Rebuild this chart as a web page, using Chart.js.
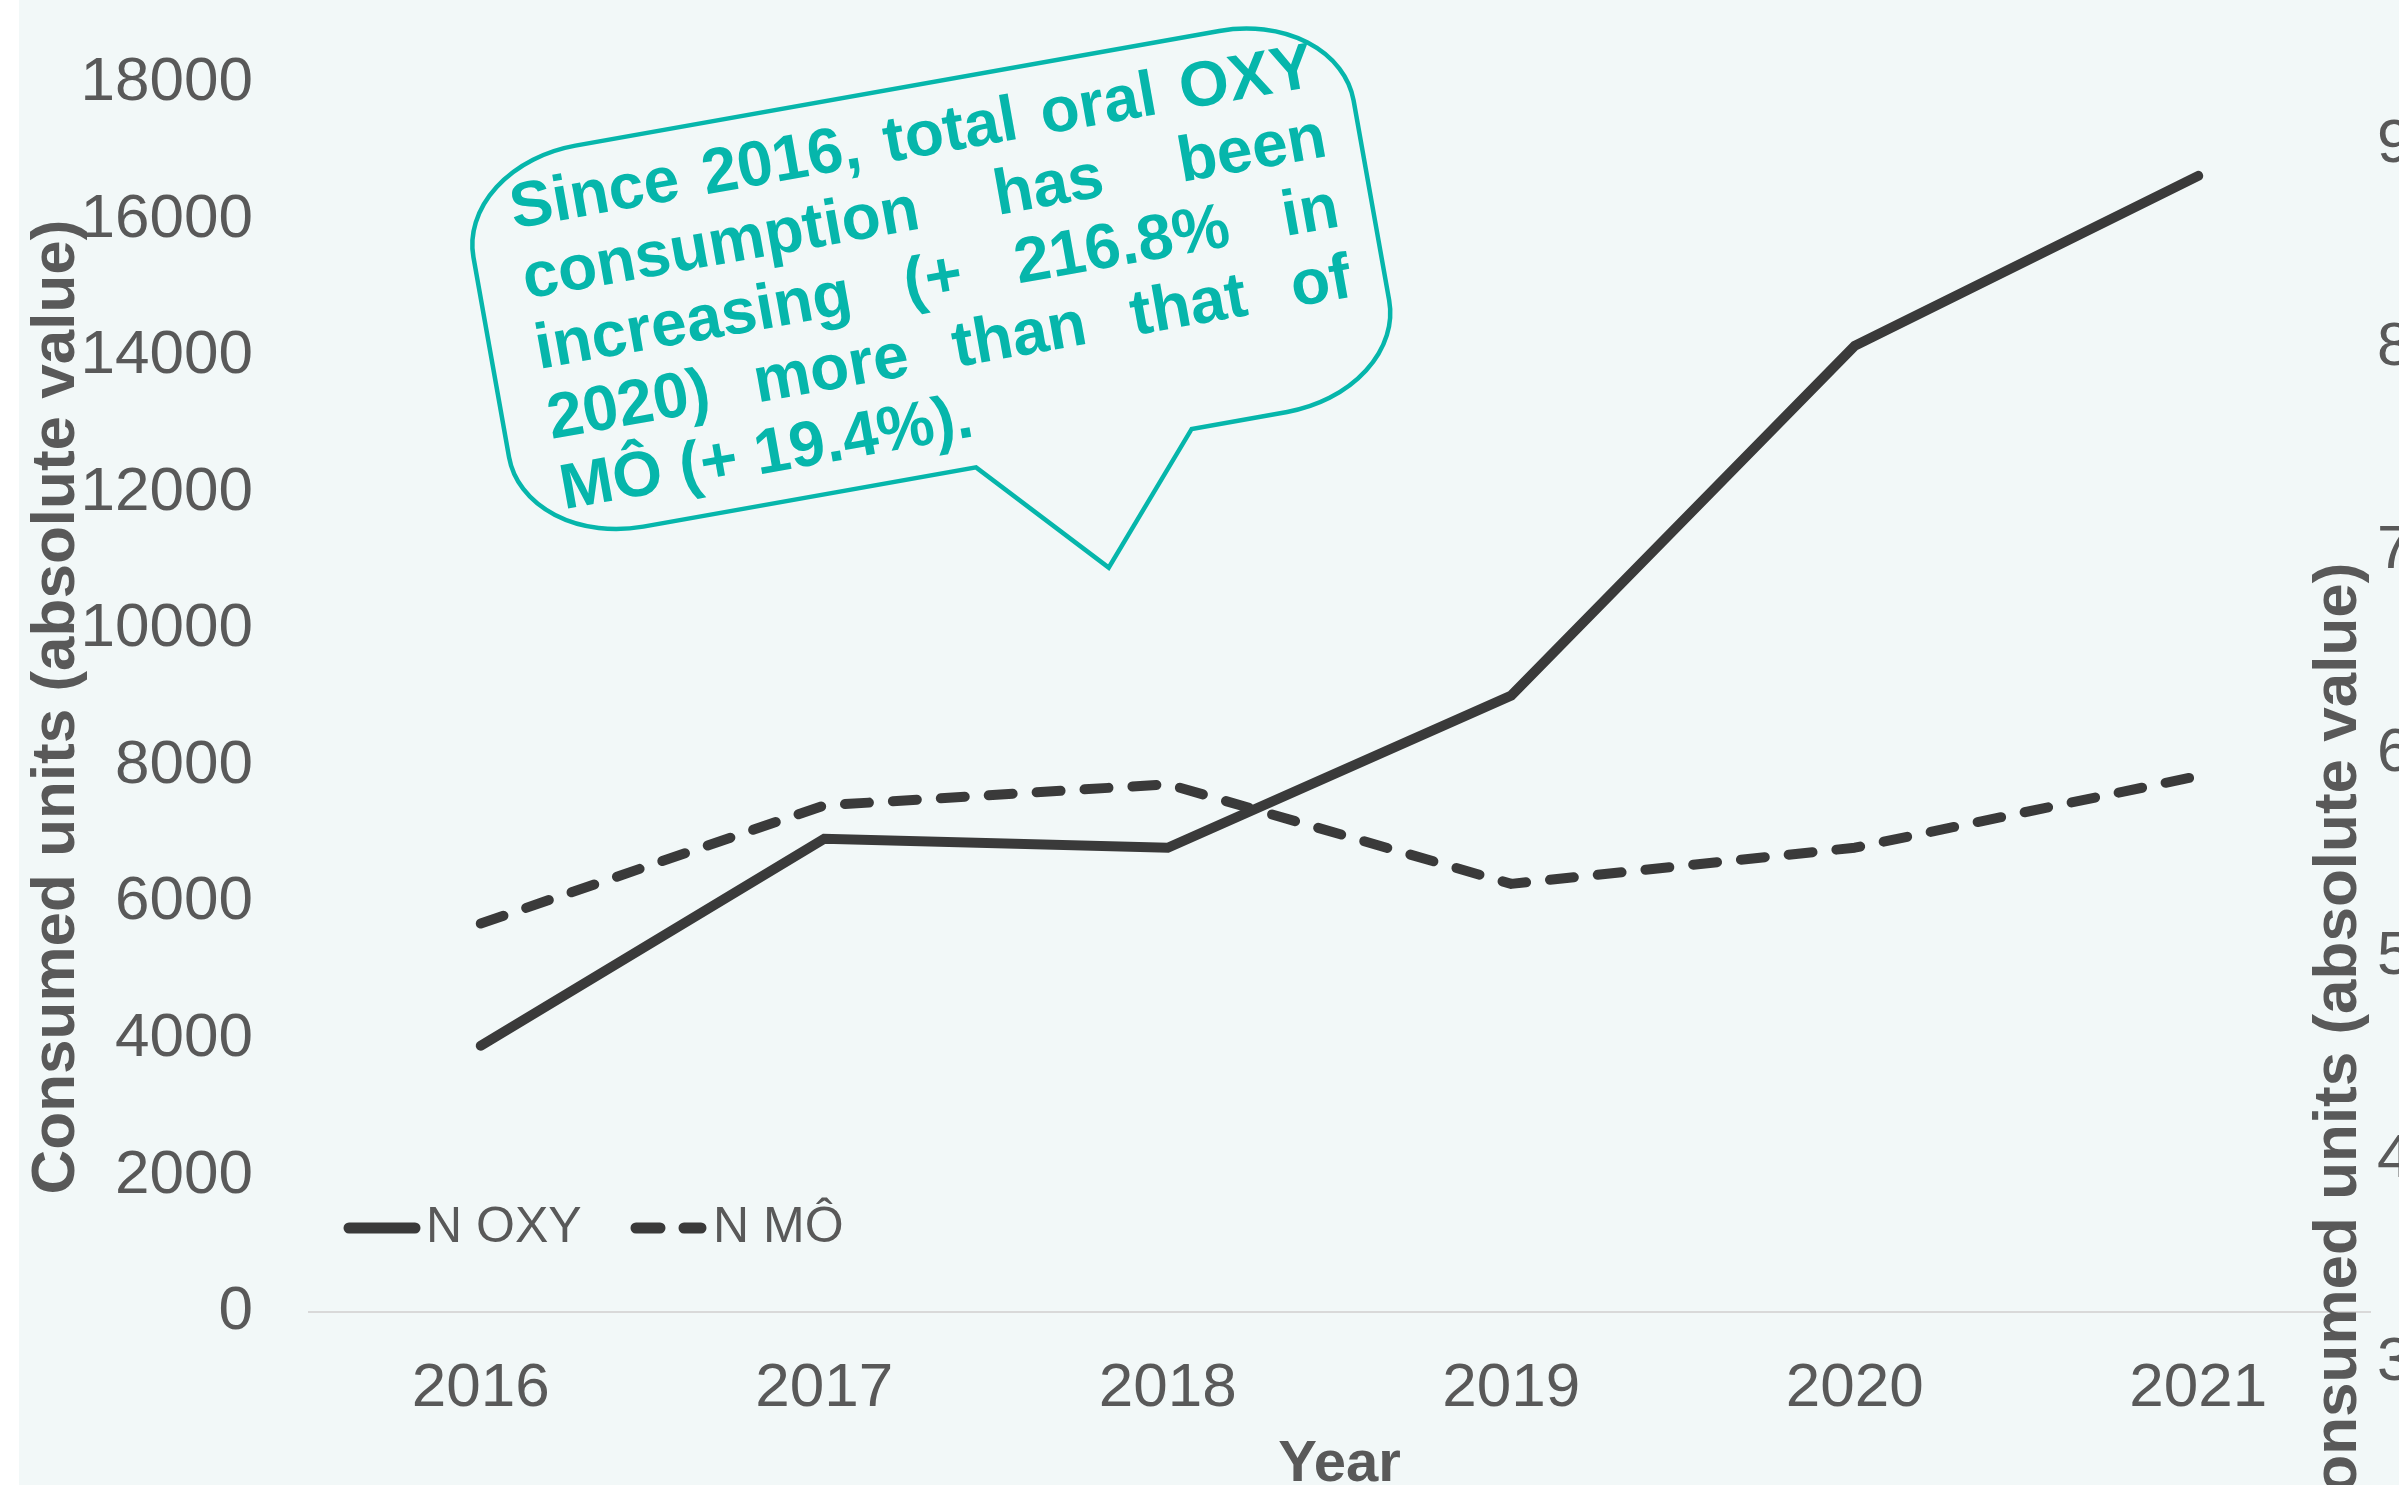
<!DOCTYPE html>
<html>
<head>
<meta charset="utf-8">
<script src="https://cdn.jsdelivr.net/npm/chart.js@4.4.0/dist/chart.umd.min.js"></script>
<style>
html,body{margin:0;padding:0;background:#ffffff;overflow:hidden}
canvas{display:block}
</style>
</head>
<body>
<canvas id="c" width="2399" height="1485" style="width:2399px;height:1485px"></canvas>
<script>
// ---------- data ----------
const years = ['2016', '2017', '2018', '2019', '2020', '2021'];
const oxyValues = [3900, 6930, 6800, 9030, 14150, 16640];
const moValues = [5690, 7420, 7730, 6270, 6800, 7850];
const seriesLabels = ['N OXY', 'N MÔ'];
const leftTicks = [0, 2000, 4000, 6000, 8000, 10000, 12000, 14000, 16000, 18000];
const rightTicks = [3000, 4000, 5000, 6000, 7000, 8000, 9000];
const yTitle = 'Consumed units (absolute value)';
const xTitle = 'Year';
const noteLines = [
  'Since 2016, total oral OXY',
  'consumption has been',
  'increasing (+ 216.8% in',
  '2020) more than that of',
  'MÔ (+ 19.4%).'
];

// ---------- styles ----------
const FONT = "'Liberation Sans', Arial, Helvetica, sans-serif";
const TEXT = '#595959';
const LINE = '#3a3a3a';
const TEAL = '#06b6ab';
const BG = '#f2f8f8';

Chart.defaults.font.family = FONT;
Chart.defaults.color = TEXT;

function noPad(s) {
  s.paddingTop = 0; s.paddingBottom = 0; s.paddingLeft = 0; s.paddingRight = 0;
}

const bgPlugin = {
  id: 'bg',
  beforeDraw(chart) {
    const c = chart.ctx;
    c.save();
    c.fillStyle = '#ffffff';
    c.fillRect(0, 0, chart.width, chart.height);
    c.fillStyle = BG;
    c.fillRect(19, 0, chart.width - 19, chart.height);
    c.restore();
  }
};

function drawVerticalTitle(c, text, x, y) {
  c.save();
  c.translate(x, y);
  c.rotate(-Math.PI / 2);
  c.fillStyle = TEXT;
  c.font = 'bold 62px ' + FONT;
  c.textAlign = 'center';
  c.textBaseline = 'middle';
  c.fillText(text, 0, 0);
  c.restore();
}

const extrasPlugin = {
  id: 'extras',
  afterDraw(chart) {
    const c = chart.ctx;
    // ---- legend (inside plot area, bottom-left) ----
    c.save();
    const legendY = 1228;
    const items = [
      {x0: 349, x1: 415, tx: 426},
      {x0: 636, x1: 701, tx: 713}
    ];
    chart.data.datasets.forEach((ds, i) => {
      const it = items[i];
      c.beginPath();
      c.strokeStyle = ds.borderColor;
      c.lineWidth = ds.borderWidth + 1;
      c.lineCap = 'round';
      c.setLineDash(ds.borderDash || []);
      c.moveTo(it.x0, legendY);
      c.lineTo(it.x1, legendY);
      c.stroke();
      c.setLineDash([]);
      c.fillStyle = TEXT;
      c.font = '50px ' + FONT;
      c.textAlign = 'left';
      c.textBaseline = 'middle';
      c.fillText(ds.label, it.tx, legendY);
    });
    c.restore();

    // ---- axis titles ----
    drawVerticalTitle(c, yTitle, 57, 707);
    drawVerticalTitle(c, yTitle, 2339, 1050);

    // ---- callout bubble ----
    c.save();
    c.translate(474, 249);
    c.rotate(-10.1 * Math.PI / 180);
    const L = -2, R = 892, T = -84, B = 303, rx = 120, ry = 92;
    c.beginPath();
    c.moveTo(L + rx, T);
    c.lineTo(R - rx, T);
    c.ellipse(R - rx, T + ry, rx, ry, 0, -Math.PI / 2, 0);
    c.lineTo(R, B - ry);
    c.ellipse(R - rx, B - ry, rx, ry, 0, 0, Math.PI / 2);
    c.lineTo(675, B);
    c.lineTo(569, 425);
    c.lineTo(456, B);
    c.lineTo(L + rx, B);
    c.ellipse(L + rx, B - ry, rx, ry, 0, Math.PI / 2, Math.PI);
    c.lineTo(L, T + ry);
    c.ellipse(L + rx, T + ry, rx, ry, 0, Math.PI, 1.5 * Math.PI);
    c.closePath();
    c.fillStyle = BG;
    c.fill();
    c.strokeStyle = TEAL;
    c.lineWidth = 4.5;
    c.lineJoin = 'miter';
    c.stroke();

    c.fillStyle = TEAL;
    c.font = 'bold 64px ' + FONT;
    c.textBaseline = 'alphabetic';
    c.textAlign = 'left';
    const left = 43, right = 858, base0 = -13, lh = 71.25;
    noteLines.forEach((line, i) => {
      const y = base0 + i * lh;
      const words = line.split(' ');
      if (i === noteLines.length - 1 || words.length === 1) {
        c.fillText(line, left, y);
        return;
      }
      const widths = words.map(w => c.measureText(w).width);
      const total = widths.reduce((a, b) => a + b, 0);
      const gap = (right - left - total) / (words.length - 1);
      let x = left;
      words.forEach((w, k) => {
        c.fillText(w, x, y);
        x += widths[k] + gap;
      });
    });
    c.restore();
  }
};

new Chart(document.getElementById('c'), {
  type: 'line',
  data: {
    labels: years,
    datasets: [
      {
        label: seriesLabels[0], data: oxyValues, yAxisID: 'y',
        borderColor: LINE, borderWidth: 10, pointRadius: 0,
        borderCapStyle: 'round', borderJoinStyle: 'miter', tension: 0, fill: false
      },
      {
        label: seriesLabels[1], data: moValues, yAxisID: 'y',
        borderColor: LINE, borderWidth: 10, pointRadius: 0, borderDash: [24, 24],
        borderCapStyle: 'round', borderJoinStyle: 'round', tension: 0, fill: false
      }
    ]
  },
  options: {
    responsive: false,
    animation: false,
    devicePixelRatio: 1,
    layout: {padding: {top: 83, left: 0, right: 0, bottom: 0}},
    plugins: {legend: {display: false}, tooltip: {enabled: false}},
    scales: {
      x: {
        type: 'category', offset: true,
        grid: {display: false, drawTicks: false},
        border: {display: true, color: '#d9d9d9', width: 2},
        ticks: {padding: 40, font: {size: 62}, color: TEXT, maxRotation: 0, autoSkip: false},
        title: {display: true, text: xTitle, font: {size: 58, weight: 'bold'}, color: TEXT, padding: {top: 0, bottom: -15}},
        afterFit(s) { s.height = 173; noPad(s); }
      },
      y: {
        position: 'left', min: 0, max: 18000,
        grid: {display: false, drawTicks: false},
        border: {display: false},
        ticks: {padding: 56, font: {size: 62}, color: TEXT, autoSkip: false, callback: v => String(v)},
        afterBuildTicks(s) { s.ticks = leftTicks.map(v => ({value: v})); },
        title: {display: false},
        afterFit(s) { s.width = 309; noPad(s); }
      },
      y2: {
        position: 'right', min: 3251, max: 9307,
        grid: {display: false, drawTicks: false},
        border: {display: false},
        ticks: {padding: 7, font: {size: 62}, color: TEXT, autoSkip: false, callback: v => String(v)},
        afterBuildTicks(s) { s.ticks = rightTicks.map(v => ({value: v})); },
        afterFit(s) { s.width = 29; noPad(s); }
      }
    }
  },
  plugins: [bgPlugin, extrasPlugin]
});
</script>
</body>
</html>
